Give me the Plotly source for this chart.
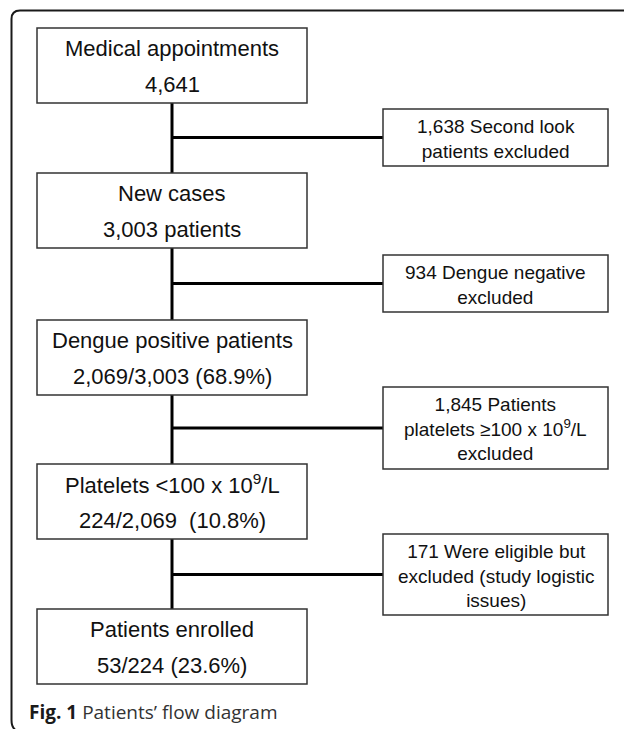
import plotly.graph_objects as go

# ---- data (texts and counts) ----
main_titles = [
    "Medical appointments",
    "New cases",
    "Dengue positive patients",
    "Platelets &lt;100 x 10<sup>9</sup>/L",
    "Patients enrolled",
]
main_counts = [
    "4,641",
    "3,003 patients",
    "2,069/3,003 (68.9%)",
    "224/2,069  (10.8%)",
    "53/224 (23.6%)",
]
excluded_texts = [
    "1,638 Second look<br>patients excluded",
    "934 Dengue negative<br>excluded",
    "1,845 Patients<br>platelets ≥100 x 10<sup>9</sup>/L<br>excluded",
    "171 Were eligible but<br>excluded (study logistic<br>issues)",
]
caption_bold = "Fig. 1"
caption_text = "Patients’ flow diagram"

# ---- layout geometry (pixels, y downwards) ----
W, H = 624, 729
main_x0, main_x1 = 37, 307
main_tops = [28, 173, 320, 464, 609]
main_h = 75
side_x0, side_x1 = 383, 608
side_tops = [109, 255, 387, 534]
side_bottoms = [166, 312, 469, 615]
spine_x = (main_x0 + main_x1) / 2

FONT = "Liberation Sans"
TXT = "#111111"
BOX = "#333333"

fig = go.Figure()
shapes = []
annotations = []

# connectors (vertical spine segments between main boxes)
for i in range(len(main_tops) - 1):
    y0 = main_tops[i] + main_h
    y1 = main_tops[i + 1]
    fig.add_trace(go.Scatter(x=[spine_x, spine_x], y=[y0, y1], mode="lines",
                             line=dict(color="#000000", width=3),
                             hoverinfo="skip", showlegend=False))
# horizontal connectors to exclusion boxes
for t, b in zip(side_tops, side_bottoms):
    yc = (t + b) / 2
    fig.add_trace(go.Scatter(x=[spine_x, side_x0], y=[yc, yc], mode="lines",
                             line=dict(color="#000000", width=3),
                             hoverinfo="skip", showlegend=False))

# main boxes
for title, count, top in zip(main_titles, main_counts, main_tops):
    shapes.append(dict(type="rect", xref="x", yref="y",
                       x0=main_x0, x1=main_x1, y0=top, y1=top + main_h,
                       line=dict(color=BOX, width=1.5), fillcolor="white", layer="above"))
    annotations.append(dict(x=spine_x, y=top + 20, xref="x", yref="y", text=title,
                            showarrow=False, xanchor="center", yanchor="middle",
                            font=dict(family=FONT, size=22, color=TXT)))
    annotations.append(dict(x=spine_x, y=top + 56, xref="x", yref="y", text=count,
                            showarrow=False, xanchor="center", yanchor="middle",
                            font=dict(family=FONT, size=22, color=TXT)))

# exclusion boxes
for txt, t, b in zip(excluded_texts, side_tops, side_bottoms):
    shapes.append(dict(type="rect", xref="x", yref="y",
                       x0=side_x0, x1=side_x1, y0=t, y1=b,
                       line=dict(color=BOX, width=1.5), fillcolor="white", layer="above"))
    annotations.append(dict(x=(side_x0 + side_x1) / 2, y=(t + b) / 2 + 1, xref="x", yref="y",
                            text=txt, showarrow=False, xanchor="center", yanchor="middle",
                            align="center",
                            font=dict(family=FONT, size=19, color=TXT)))

# outer frame (top and left edges with rounded corners)
shapes.append(dict(type="path", xref="x", yref="y",
                   path="M 624 10.5 L 20 10.5 Q 11.5 10.5 11.5 19 L 11.5 720 Q 11.5 727 15 729.5",
                   line=dict(color="#1a1a1a", width=2)))

# caption
annotations.append(dict(x=27, y=712, xref="x", yref="y",
                        text=f"<b>{caption_bold}</b> <span style='color:#333333'>{caption_text}</span>",
                        showarrow=False, xanchor="left", yanchor="middle",
                        font=dict(family="Open Sans", size=19, color="#1a1a1a")))

fig.update_layout(
    width=W, height=H,
    margin=dict(l=0, r=0, t=0, b=0),
    paper_bgcolor="white", plot_bgcolor="white",
    xaxis=dict(range=[0, W], visible=False, fixedrange=True),
    yaxis=dict(range=[H, 0], visible=False, fixedrange=True),
    shapes=shapes, annotations=annotations,
    showlegend=False,
)

fig.write_html("out.html", config={"displayModeBar": False},
               post_script="document.body.style.margin='0';document.body.style.overflow='hidden';")
